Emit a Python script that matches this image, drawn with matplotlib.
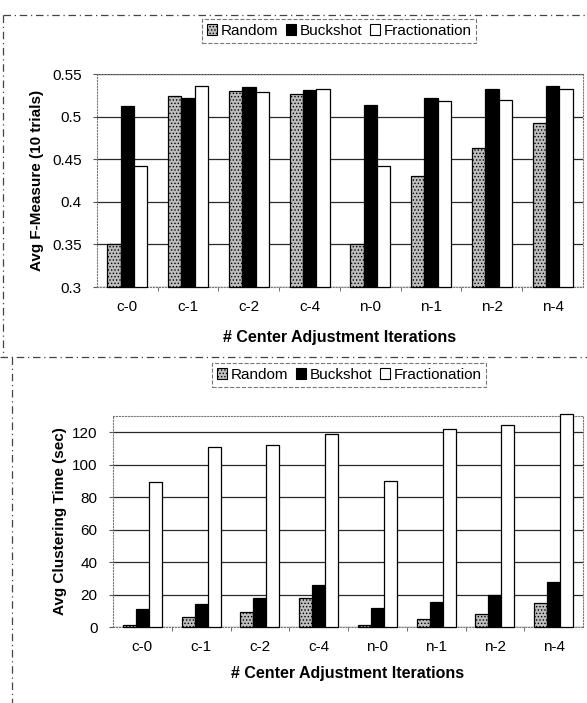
import numpy as np
import matplotlib.pyplot as plt
from matplotlib.lines import Line2D
from matplotlib.patches import Patch

plt.rcParams['font.family'] = ['Liberation Sans', 'DejaVu Sans']
plt.rcParams['hatch.linewidth'] = 0.6

# data
categories = ['c-0', 'c-1', 'c-2', 'c-4', 'n-0', 'n-1', 'n-2', 'n-4']
series = ['Random', 'Buckshot', 'Fractionation']

fmeasure_random = [0.351, 0.524, 0.530, 0.526, 0.351, 0.430, 0.463, 0.493]
fmeasure_buckshot = [0.513, 0.522, 0.535, 0.531, 0.514, 0.522, 0.533, 0.536]
fmeasure_fract = [0.442, 0.536, 0.529, 0.532, 0.442, 0.518, 0.519, 0.533]

time_random = [1.5, 6, 9, 18, 1.5, 4.8, 8, 14.5]
time_buckshot = [11, 14, 18, 26, 11.5, 15.5, 20, 27.5]
time_fract = [89.5, 111, 112, 119, 90, 122, 124.5, 131]

f_ticks = [0.3, 0.35, 0.4, 0.45, 0.5, 0.55]
f_ticklabels = ['0.3', '0.35', '0.4', '0.45', '0.5', '0.55']
t_ticks = [0, 20, 40, 60, 80, 100, 120]

styles = [dict(facecolor='#bdbdbd', hatch='.....', edgecolor='black'),
          dict(facecolor='black', edgecolor='black'),
          dict(facecolor='white', edgecolor='black')]

fig = plt.figure(figsize=(5.87, 7.03), dpi=100)


def draw_panel(ax, values, ticks, ticklabels, ylim, ylabel, ylab_x):
    x = np.arange(len(categories))
    w = 0.22
    for i, vals in enumerate(values):
        ax.bar(x + (i - 1) * w, np.array(vals) - ylim[0], w, bottom=ylim[0],
               linewidth=0.9, zorder=3, clip_on=False, **styles[i])
    ax.set_xlim(-0.5, len(categories) - 0.5)
    ax.set_ylim(*ylim)
    ax.set_yticks(ticks)
    ax.set_yticklabels(ticklabels)
    ax.set_xticks(x)
    ax.set_xticklabels(categories)
    ax.set_xticks(np.arange(0.5, len(categories) - 1, 1), minor=True)
    ax.tick_params(axis='x', which='major', length=0, pad=9, labelsize=11)
    ax.tick_params(axis='x', which='minor', length=3, color='#555', direction='out')
    ax.tick_params(axis='y', length=3, color='#555', pad=8, labelsize=11)
    ax.yaxis.grid(True, color='#2a2a2a', linewidth=0.9, zorder=0)
    ax.set_axisbelow(True)
    for s in ax.spines.values():
        s.set_color('#777')
        s.set_linewidth(0.8)
        s.set_linestyle(':')
    ax.set_ylabel(ylabel, fontsize=11, fontweight='bold')
    ax.yaxis.set_label_coords(ylab_x, 0.5)
    ax.set_xlabel('# Center Adjustment Iterations', fontsize=11.5, fontweight='bold')


ax1 = fig.add_axes([0.1652, 0.5917, 0.828, 0.303])
draw_panel(ax1, [fmeasure_random, fmeasure_buckshot, fmeasure_fract],
           f_ticks, f_ticklabels, (0.3, 0.55), 'Avg F-Measure (10 trials)', -0.109)
ax1.xaxis.set_label_coords(0.5, -0.202)

ax2 = fig.add_axes([0.1925, 0.1081, 0.8007, 0.300])
draw_panel(ax2, [time_random, time_buckshot, time_fract],
           t_ticks, [str(t) for t in t_ticks], (0, 130), 'Avg Clustering Time (sec)', -0.098)
ax2.xaxis.set_label_coords(0.5, -0.185)

handles = [Patch(linewidth=0.8, **st) for st in styles]
for cx, cy in [(0.5775, 0.9559), (0.5945, 0.4666)]:
    leg = fig.legend(handles, series, loc='center', bbox_to_anchor=(cx, cy), ncol=3,
                     fontsize=11, handlelength=0.7, handleheight=0.7, handletextpad=0.2,
                     columnspacing=0.5, borderpad=0.3, fancybox=False, frameon=True)
    fr = leg.get_frame()
    fr.set_edgecolor('#555')
    fr.set_linewidth(0.8)
    fr.set_linestyle('--')

# dashed chart-area borders
W, H = 587.0, 703.0
def fline(xs, ys):
    fig.add_artist(Line2D([v / W for v in xs], [1 - v / H for v in ys], color='#444',
                          linewidth=0.9, linestyle=(0, (6, 3, 1, 3))))

fline([3, 587], [15, 15])
fline([3, 3], [15, 357])
fline([0, 587], [357, 357])
fline([12, 12], [357, 703])

fig.savefig('out.png', dpi=100)
